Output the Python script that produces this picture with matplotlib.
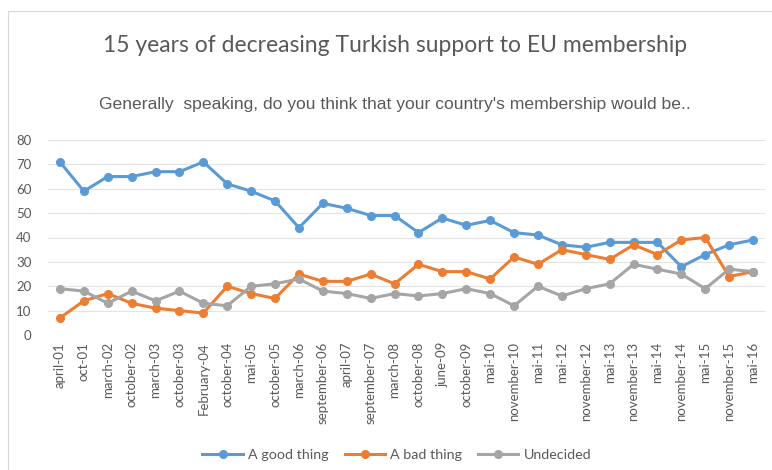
# Turkish support for EU membership, 2001-2016 (Eurobarometer style line chart)

import matplotlib.pyplot as plt
from matplotlib.patches import Rectangle

periods = ["april-01", "oct-01", "march-02", "october-02", "march-03", "october-03",
           "February-04", "october-04", "mai-05", "october-05", "march-06",
           "september-06", "april-07", "september-07", "march-08", "october-08",
           "june-09", "october-09", "mai-10", "november-10", "mai-11", "mai-12",
           "november-12", "mai-13", "november-13", "mai-14", "november-14",
           "mai-15", "november-15", "mai-16"]
good = [71, 59, 65, 65, 67, 67, 71, 62, 59, 55, 44, 54, 52, 49, 49, 42, 48, 45,
        47, 42, 41, 37, 36, 38, 38, 38, 28, 33, 37, 39]
bad = [7, 14, 17, 13, 11, 10, 9, 20, 17, 15, 25, 22, 22, 25, 21, 29, 26, 26,
       23, 32, 29, 35, 33, 31, 37, 33, 39, 40, 24, 26]
undecided = [19, 18, 13, 18, 14, 18, 13, 12, 20, 21, 23, 18, 17, 15, 17, 16, 17,
             19, 17, 12, 20, 16, 19, 21, 29, 27, 25, 19, 27, 26]

TXT = "#595959"

def main():
    fig = plt.figure(figsize=(7.72, 4.70), dpi=100)
    fig.patches.append(Rectangle((8 / 772, -2 / 470), 770 / 772, 461 / 470,
                                 transform=fig.transFigure, fill=False,
                                 edgecolor="#d9d9d9", linewidth=0.8))
    ax = fig.add_axes([48 / 772, 1 - 335 / 470, 717 / 772, 195 / 470])

    x = range(len(periods))
    series = [("A good thing", good, "#5b9bd5"),
              ("A bad thing", bad, "#ed7d31"),
              ("Undecided", undecided, "#a5a5a5")]
    for label, vals, col in series:
        ax.plot(x, vals, color=col, lw=2.2, marker="o", ms=5.5, label=label)

    ax.set_xlim(-0.5, len(periods) - 0.5)
    ax.set_ylim(0, 80)
    ax.set_yticks(range(0, 81, 10))
    ax.set_xticks(list(x))
    ax.set_xticklabels(periods, rotation=90, fontsize=9.5, color=TXT,
                       family="Lato")
    ax.tick_params(axis="y", labelsize=9.5, labelcolor=TXT, length=0, pad=12)
    ax.tick_params(axis="x", length=0, pad=5)
    for lbl in ax.get_yticklabels():
        lbl.set_family("Lato")
    ax.grid(axis="y", color="#e3e3e3", lw=0.8)
    ax.set_axisbelow(True)
    for s in ax.spines.values():
        s.set_visible(False)

    fig.text(0.512, 1 - 45 / 470, "15 years of decreasing Turkish support to EU membership",
             ha="center", va="center", fontsize=16.5, color=TXT, family="Lato")
    fig.text(0.512, 1 - 104 / 470,
             "Generally  speaking, do you think that your country's membership would be..",
             ha="center", va="center", fontsize=12.6, color=TXT,
             family="Liberation Sans")

    ax.legend(loc="center", bbox_to_anchor=(397 / 772, 1 - 455 / 470),
              bbox_transform=fig.transFigure, ncol=3, frameon=False,
              labelcolor=TXT, prop={"family": "Lato", "size": 10.3},
              handlelength=2.8, columnspacing=1.1, handletextpad=0.4)

    fig.savefig("out.png", dpi=100)


if __name__ == "__main__":
    main()
